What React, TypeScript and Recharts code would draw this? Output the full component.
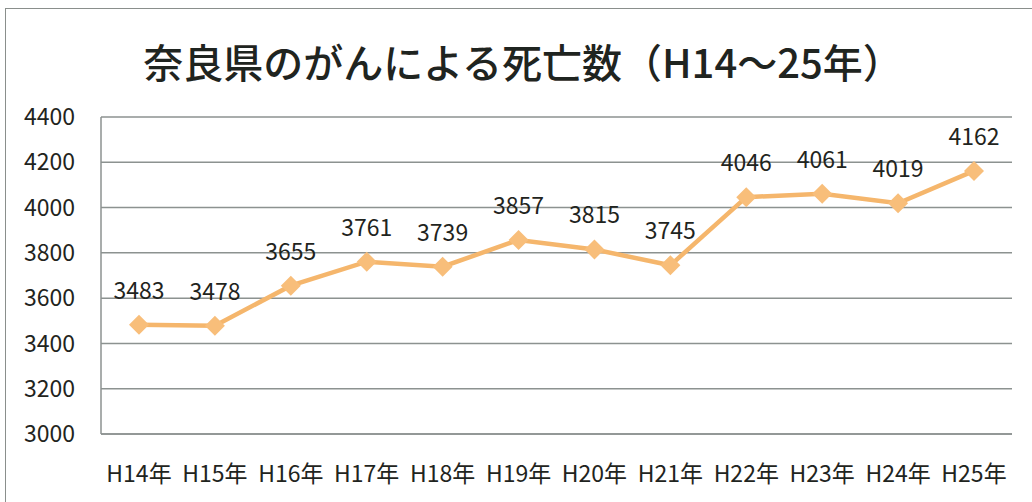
import React from 'react';
import { LineChart, Line, XAxis, YAxis, CartesianGrid, LabelList } from 'recharts';

const years = ['H14年', 'H15年', 'H16年', 'H17年', 'H18年', 'H19年', 'H20年', 'H21年', 'H22年', 'H23年', 'H24年', 'H25年'];
const deaths = [3483, 3478, 3655, 3761, 3739, 3857, 3815, 3745, 4046, 4061, 4019, 4162];
const yTicks = [3000, 3200, 3400, 3600, 3800, 4000, 4200, 4400];

const data = years.map((year, i) => ({ year, deaths: deaths[i] }));

const ORANGE = '#F5B66C';
const GRID = '#8C9290';
const TEXT = '#1f2420';
const FONT = '"Noto Sans CJK JP", "Noto Sans", sans-serif';

const Diamond = (props: any) => {
  const { cx, cy } = props;
  if (cx == null || cy == null) return null;
  const r = 10;
  return (
    <polygon
      points={`${cx},${cy - r} ${cx + r},${cy} ${cx},${cy + r} ${cx - r},${cy}`}
      fill="#F8BE7A"
      stroke="none"
    />
  );
};

const App: React.FC = () => {
  return (
    <div style={{ position: 'absolute', left: 0, top: 0, width: 1032, height: 502, background: '#fff', overflow: 'hidden' }}>
      {/* outer frame */}
      <div style={{ position: 'absolute', left: 5, top: 8, width: 1100, height: 600, border: '1.5px solid #8a8f8c' }} />

      {/* title */}
      <div
        style={{
          position: 'absolute',
          left: 0,
          top: 31,
          width: 1046,
          textAlign: 'center',
          fontFamily: FONT,
          fontSize: 40,
          fontWeight: 500,
          lineHeight: '60px',
          color: TEXT,
          whiteSpace: 'nowrap',
        }}
      >
        奈良県のがんによる死亡数（H14～25年）
      </div>

      <div style={{ position: 'absolute', left: 0, top: 0 }}>
        <LineChart width={1032} height={502} data={data} margin={{ top: 117, right: 20, bottom: 0, left: 5 }}>
          <CartesianGrid vertical={false} stroke={GRID} strokeWidth={1.5} />
          <XAxis
            dataKey="year"
            axisLine={{ stroke: GRID, strokeWidth: 1.5 }}
            tickLine={false}
            height={68}
            padding={{ left: 38, right: 38 }}
            tick={{ fill: TEXT, fontSize: 23, fontFamily: FONT }}
            tickMargin={26}
            interval={0}
          />
          <YAxis
            domain={[3000, 4400]}
            ticks={yTicks}
            width={96}
            axisLine={{ stroke: GRID, strokeWidth: 1.5 }}
            tickLine={false}
            tick={{ fill: TEXT, fontSize: 23, fontFamily: FONT }}
            tickMargin={20}
          />
          <Line
            dataKey="deaths"
            stroke={ORANGE}
            strokeWidth={4.5}
            dot={<Diamond />}
            activeDot={false}
            isAnimationActive={false}
          >
            <LabelList dataKey="deaths" position="top" offset={26} fill={TEXT} fontSize={23} fontFamily={FONT} />
          </Line>
        </LineChart>
      </div>
    </div>
  );
};

export default App;
